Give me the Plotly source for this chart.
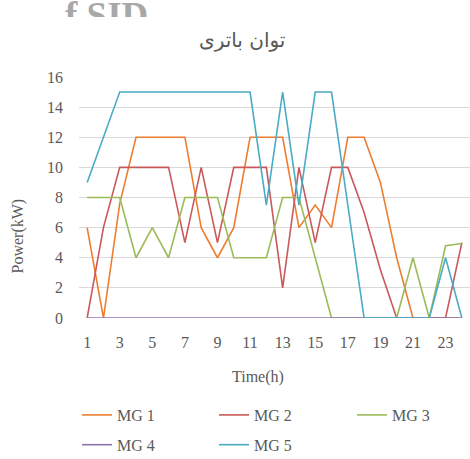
import plotly.graph_objects as go

hours = list(range(1, 25))
mg1 = [6, 0, 7.6, 12, 12, 12, 12, 6, 4, 6, 12, 12, 12, 6, 7.5, 6, 12, 12, 9, 4, 0, 0, 0, 0]
mg2 = [0, 6, 10, 10, 10, 10, 5, 10, 5, 10, 10, 10, 2, 10, 5, 10, 10, 7, 3.2, 0, 0, 0, 0, 5]
mg3 = [8, 8, 8, 4, 6, 4, 8, 8, 8, 4, 4, 4, 8, 8, 4, 0, 0, 0, 0, 0, 4, 0, 4.8, 4.95]
mg4 = [0] * 24
mg5 = [9, 12, 15, 15, 15, 15, 15, 15, 15, 15, 15, 7.5, 15, 7.5, 15, 15, 7.5, 0, 0, 0, 0, 0, 4, 0]
names = ["MG 1", "MG 2", "MG 3", "MG 4", "MG 5"]
series = [mg1, mg2, mg3, mg4, mg5]
colors = ["#ED7D31", "#C9595A", "#9BBB59", "#8E72B0", "#4BACC6"]
legend_ids = ["legend", "legend2", "legend3", "legend", "legend2"]
xticks = list(range(1, 24, 2))
yticks = list(range(0, 17, 2))

W, H = 470, 459
MB = 141
PH = H - MB  # paper height in px

def py(page_y):
    return (PH - page_y) / PH

def px(page_x):
    return page_x / W

serif = "Liberation Serif"
grey = "#595959"

fig = go.Figure()
for n, s, c, lg in zip(names, series, colors, legend_ids):
    fig.add_trace(go.Scatter(x=hours, y=s, name=n, mode="lines", legend=lg,
                             legendgroup=n,
                             line=dict(color=c, width=1.6)))

# watermark fragment at the top (clipped)
fig.add_trace(go.Scatter(x=[65], y=[19], mode="text", text=["f SID"],
                         textposition="middle right", showlegend=False,
                         hoverinfo="skip", cliponaxis=True,
                         textfont=dict(family=serif, size=37, color="#a8a8a8", weight="bold"),
                         xaxis="x2", yaxis="y2"))

leg_common = dict(orientation="v", xanchor="left", yanchor="top",
                  font=dict(family=serif, size=16, color=grey),
                  bgcolor="rgba(0,0,0,0)", traceorder="grouped", tracegroupgap=6)

fig.update_layout(
    width=W, height=H,
    margin=dict(l=0, r=0, t=0, b=MB, autoexpand=False),
    paper_bgcolor="white", plot_bgcolor="white",
    xaxis=dict(domain=[px(79), 1], range=[0.5, 24.5], tickvals=xticks,
               showgrid=False, zeroline=False, showline=False, ticks="",
               tickfont=dict(family=serif, size=16, color=grey), ticklabelstandoff=13),
    yaxis=dict(domain=[0, py(77)], range=[0, 16], tickvals=yticks,
               showgrid=True, gridcolor="#D9D9D9", gridwidth=1, zeroline=False,
               showline=False, ticks="",
               tickfont=dict(family=serif, size=16, color=grey), ticklabelstandoff=15),
    xaxis2=dict(domain=[0, 1], range=[0, W], visible=False, anchor="y2"),
    yaxis2=dict(domain=[py(17), 1], range=[17, 0], visible=False, anchor="x2"),
    showlegend=True,
    legend=dict(x=px(77), y=py(398), **leg_common),
    legend2=dict(x=px(214), y=py(398), **leg_common),
    legend3=dict(x=px(352), y=py(398), **leg_common),
    annotations=[
        dict(text="توان باتری", x=px(242), y=py(40), xref="paper", yref="paper",
             showarrow=False, xanchor="center", yanchor="middle",
             font=dict(family="DejaVu Sans", size=20, color=grey)),
        dict(text="Power(kW)", x=px(17.5), y=py(236), xref="paper", yref="paper",
             showarrow=False, xanchor="center", yanchor="middle", textangle=-90,
             font=dict(family=serif, size=16, color=grey)),
        dict(text="Time(h)", x=px(258), y=py(377), xref="paper", yref="paper",
             showarrow=False, xanchor="center", yanchor="middle",
             font=dict(family=serif, size=16, color=grey)),
    ],
)

fig.write_html("out.html", config={"displayModeBar": False},
               post_script="document.body.style.margin='0px';")
